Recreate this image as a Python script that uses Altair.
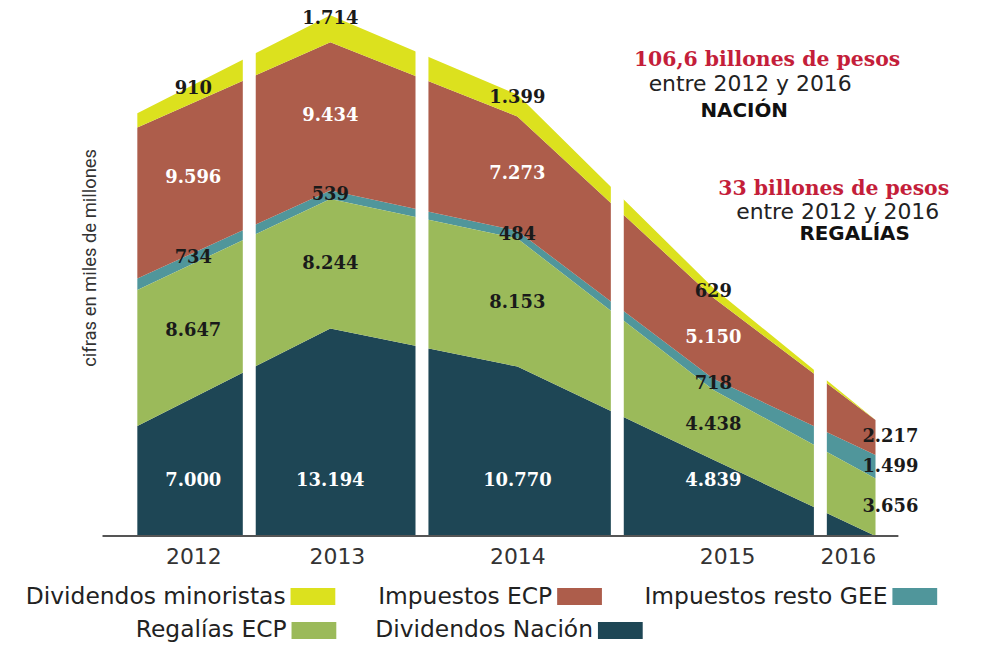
import altair as alt
import numpy as np
import pandas as pd

# ---------------- data ----------------
years = [2012, 2013, 2014, 2015, 2016]
series_names = ["Dividendos Nación", "Regalías ECP", "Impuestos resto GEE",
                "Impuestos ECP", "Dividendos minoristas"]
dividendos_nacion = [7000, 13194, 10770, 4839, 0]
regalias_ecp = [8647, 8244, 8153, 4438, 3656]
impuestos_resto_gee = [734, 539, 484, 718, 1499]
impuestos_ecp = [9596, 9434, 7273, 5150, 2217]
dividendos_minoristas = [910, 1714, 1399, 629, 0]
series_colors = ["#1e4655", "#9bba5a", "#50969b", "#ad5d4b", "#dce11e"]

legend_row1 = ["Dividendos minoristas", "Impuestos ECP", "Impuestos resto GEE"]
legend_row2 = ["Regalías ECP", "Dividendos Nación"]

# white gaps that split the years (in year units)
separators = [2012.58, 2013.49, 2014.51, 2015.66]

y_title = "cifras en miles de millones"

# ---------------- tables ----------------
values = [dividendos_nacion, regalias_ecp, impuestos_resto_gee, impuestos_ecp, dividendos_minoristas]
color_of = dict(zip(series_names, series_colors))

rows = []
for k, (name, vals) in enumerate(zip(series_names, values)):
    for yr, v in zip(years, vals):
        rows.append({"year": yr, "serie": name, "value": v, "order": k})
df = pd.DataFrame(rows)

cum = np.cumsum(np.array(values, dtype=float), axis=0)
bounds = [years[0]] + separators + [years[-1]]
seg_centers = [(bounds[i] + bounds[i + 1]) / 2 for i in range(len(years))]
label_x = [seg_centers[0]] + years[1:]

lab = []
for k, name in enumerate(series_names):
    for i, yr in enumerate(years):
        v = values[k][i]
        if v == 0:
            continue
        lx = label_x[i]
        hi = float(np.interp(lx, years, cum[k]))
        lo = float(np.interp(lx, years, cum[k - 1])) if k > 0 else 0.0
        if k == 0:
            ly = values[0][0] / 2
        elif k == len(series_names) - 1:
            ly = hi
        else:
            ly = (lo + hi) / 2
        lab.append({"serie": name, "year": yr, "lx": lx, "ly": ly,
                    "txt": f"{v:,}".replace(",", ".")})
labels = pd.DataFrame(lab)
one = pd.DataFrame({"k": [0]})

# ---------------- layout ----------------
W, H = 800, 529
xscale = alt.Scale(domain=years, range=[35, 229, 417, 614, 777], nice=False, zero=False)
yscale = alt.Scale(domain=[0, 33480], nice=False, zero=True)
xaxis = alt.Axis(values=seg_centers, labelExpr="round(datum.value)", title=None,
                 domain=False, ticks=False, grid=False, labelFont="DejaVu Sans",
                 labelFontSize=22, labelColor="#333333", labelPadding=11,
                 labelAngle=0, labelFlush=False)
yaxis = alt.Axis(title=y_title, labels=False, ticks=False, domain=False, grid=False,
                 titleFont="Roboto", titleFontSize=18.5, titleFontWeight="normal",
                 titleColor="#333333", titlePadding=3, titleY=249)


def X(f):
    return alt.X(f, scale=xscale, axis=xaxis)


def Y(f):
    return alt.Y(f, scale=yscale, axis=yaxis)


sym = "M-1,-0.38H1V0.38H-1Z"


def legend(x, y, pad):
    return alt.Legend(orient="none", legendX=x, legendY=y, direction="horizontal",
                      title=None, symbolType=sym, symbolSize=2025, symbolStrokeWidth=0,
                      symbolOpacity=1, labelAlign="right", labelOffset={"expr": "-50"},
                      labelBaseline="middle", labelFont="DejaVu Sans",
                      labelFontSize=23.5, labelColor="#222222", labelLimit=600,
                      columnPadding=pad, padding=0)


stacked = alt.Chart(df).transform_stack(
    stack="value", groupby=["year"], sort=[alt.SortField("order", order="ascending")],
    as_=["y0", "y1"])

area1 = stacked.transform_filter(
    alt.FieldOneOfPredicate(field="serie", oneOf=legend_row1)
).mark_area(interpolate="linear", opacity=1).encode(
    x=X("year:Q"), y=Y("y0:Q"), y2="y1:Q",
    fill=alt.Fill("serie:N", scale=alt.Scale(domain=legend_row1,
                                             range=[color_of[n] for n in legend_row1]),
                  legend=legend(189, 567.5, 42)))

area2 = stacked.transform_filter(
    alt.FieldOneOfPredicate(field="serie", oneOf=legend_row2)
).mark_area(interpolate="linear", opacity=1).encode(
    x=X("year:Q"), y=Y("y0:Q"), y2="y1:Q",
    color=alt.Color("serie:N", scale=alt.Scale(domain=legend_row2,
                                               range=[color_of[n] for n in legend_row2]),
                    legend=legend(190, 601.5, 38)))

seps = alt.Chart(pd.DataFrame({"sep": separators})).mark_rule(
    color="white", strokeWidth=13).encode(x=X("sep:Q"), y=alt.value(0), y2=alt.value(H))

baseline = alt.Chart(one).mark_rule(color="#555555", strokeWidth=2).encode(
    x=alt.value(0), x2=alt.value(W), y=alt.value(H))

light = "(datum.serie == 'Dividendos Nación' || datum.serie == 'Impuestos ECP')"
txt_style = dict(font="DejaVu Serif", fontSize=18, fontWeight="bold",
                 align="center", baseline="middle")

txt_main = alt.Chart(labels).transform_filter(
    "datum.year < 2016 && datum.serie != 'Dividendos minoristas'"
).mark_text(**txt_style).encode(
    x=X("lx:Q"), y=Y("ly:Q"), text="txt:N",
    color=alt.condition(light, alt.value("white"), alt.value("#1a1a1a")))

txt_top = alt.Chart(labels).transform_filter(
    "datum.year < 2016 && datum.serie == 'Dividendos minoristas'"
).mark_text(dy=4, color="#1a1a1a", **txt_style).encode(
    x=X("lx:Q"), y=Y("ly:Q"), text="txt:N")

txt_last = alt.Chart(labels).transform_filter("datum.year == 2016").mark_text(
    dx=15, color="#1a1a1a", **txt_style).encode(x=X("lx:Q"), y=Y("ly:Q"), text="txt:N")


def note(text, x, y, font, size, weight, color):
    return alt.Chart(one).mark_text(text=text, font=font, fontSize=size, fontWeight=weight,
                                    color=color, align="center", baseline="middle").encode(
        x=alt.value(x), y=alt.value(y))


red = "#c41e3a"
notes = [
    note("106,6 billones de pesos", 668, 51, "DejaVu Serif", 20.5, "bold", red),
    note("entre 2012 y 2016", 651, 75, "DejaVu Sans", 22, "normal", "#222222"),
    note("NACIÓN", 645, 102, "DejaVu Sans", 20, "bold", "#111111"),
    note("33 billones de pesos", 735, 180, "DejaVu Serif", 20.5, "bold", red),
    note("entre 2012 y 2016", 739, 203, "DejaVu Sans", 22, "normal", "#222222"),
    note("REGALÍAS", 756, 226, "DejaVu Sans", 20, "bold", "#111111"),
]

chart = alt.layer(area1, area2, seps, baseline, txt_main, txt_top, txt_last, *notes).properties(
    width=W, height=H,
    padding={"left": 95, "top": 0, "right": 75, "bottom": 108},
    autosize=alt.AutoSizeParams(type="none"),
    background="white",
).configure_view(stroke=None)

chart.save("out.html", embed_options={"renderer": "svg", "actions": False})
